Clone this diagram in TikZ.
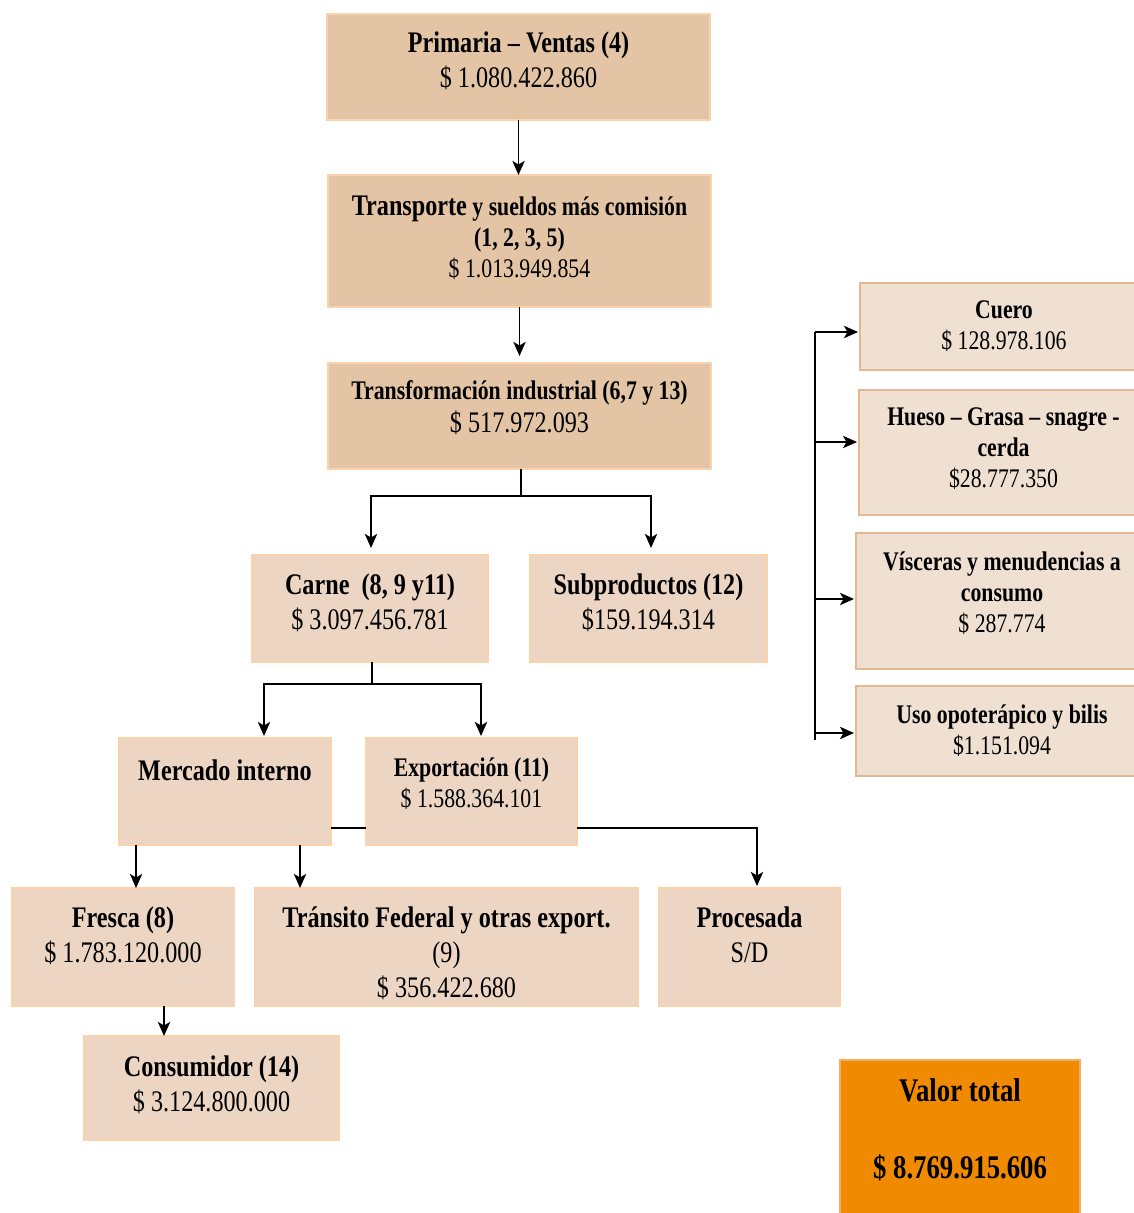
\documentclass[tikz,border=0pt]{standalone}
\usepackage{fontspec}
\setmainfont{Liberation Serif}[FakeStretch=0.81]
\usetikzlibrary{positioning,calc,arrows.meta}

\definecolor{tanDark}{HTML}{E3C5A5}
\definecolor{tanMid}{HTML}{ECD6C3}
\definecolor{tanLight}{HTML}{EFE0D1}
\definecolor{edgeLight}{HTML}{FAD3AC}
\definecolor{edgeTan}{HTML}{E2B791}
\definecolor{edgeTotal}{HTML}{F3AE63}
\definecolor{totalOrange}{HTML}{F08A00}

\newcommand\fbig{\fontsize{17}{19.9}\selectfont}
\newcommand\fsmall{\fontsize{15.3}{17.6}\selectfont}
\newcommand\ftotal{\fontsize{18.8}{21.9}\selectfont}

\begin{document}
\begin{tikzpicture}[x=0.02cm,y=-0.02cm,>={Stealth[length=8pt,width=7pt,inset=2pt]},
    stagebox/.style={draw=edgeLight,line width=1.2pt,fill=tanMid,inner sep=0pt,outer sep=0pt},
    stagedark/.style={stagebox,fill=tanDark},
    sidebox/.style={stagebox,draw=edgeTan,fill=tanLight},
    totalbox/.style={stagebox,draw=edgeTotal,fill=totalOrange},
    txt/.style={align=center,inner sep=0pt,font=\fbig,execute at begin node=\strut},
    txtsmall/.style={txt,font=\fsmall},
    flow/.style={->,line width=1.1pt},
    link/.style={line width=1.1pt}]
    \useasboundingbox (0,0) rectangle (1133,1213);

    %/ Cadena principal
    \node[stagedark,minimum width=7.66cm,minimum height=2.12cm] (prim) at (518.5,67) {};
    \node[txt,below=0.34cm of prim.north] (primT) {\textbf{Primaria – Ventas (4)}\\\$ 1.080.422.860};

    \node[stagedark,minimum width=7.66cm,minimum height=2.64cm] (transp) at (519.5,241) {};
    \node[txtsmall,below=0.41cm of transp.north] (transpT) {\textbf{{\fbig Transporte} y sueldos más comisión}\\\textbf{(1, 2, 3, 5)}\\\$ 1.013.949.854};

    \node[stagedark,minimum width=7.66cm,minimum height=2.12cm] (transf) at (519.5,416) {};
    \node[txtsmall,below=0.35cm of transf.north] (transfT) {\textbf{Transformación industrial (6,7 y 13)}\\[1.2pt]{\fbig\$ 517.972.093}};

    %/ Carne y subproductos
    \node[stagebox,minimum width=4.72cm,minimum height=2.14cm] (carne) at (370,608.5) {};
    \node[txt,below=0.36cm of carne.north] (carneT) {\textbf{Carne\ \ (8, 9 y11)}\\\$ 3.097.456.781};

    \node[stagebox,minimum width=4.74cm,minimum height=2.14cm] (subp) at (648.5,608.5) {};
    \node[txt,below=0.36cm of subp.north] (subpT) {\textbf{Subproductos (12)}\\\$159.194.314};

    \node[stagebox,minimum width=4.24cm,minimum height=2.14cm] (merc) at (225,791.5) {};
    \node[txt,below=0.36cm of merc.north] (mercT) {\textbf{Mercado interno}};

    \node[stagebox,minimum width=4.22cm,minimum height=2.14cm] (expo) at (471.5,791.5) {};
    \node[txtsmall,below=0.39cm of expo.north] (expoT) {\textbf{Exportación (11)}\\\$ 1.588.364.101};

    %/ Destinos
    \node[stagebox,minimum width=4.44cm,minimum height=2.36cm] (fresca) at (123,947) {};
    \node[txt,below=0.36cm of fresca.north] (frescaT) {\textbf{Fresca (8)}\\\$ 1.783.120.000};

    \node[stagebox,minimum width=7.66cm,minimum height=2.36cm] (transito) at (446.5,947) {};
    \node[txt,below=0.36cm of transito.north] (transitoT) {\textbf{Tránsito Federal y otras export.}\\(9)\\\$ 356.422.680};

    \node[stagebox,minimum width=3.62cm,minimum height=2.36cm] (proc) at (749.5,947) {};
    \node[txt,below=0.36cm of proc.north] (procT) {\textbf{Procesada}\\S/D};

    \node[stagebox,minimum width=5.10cm,minimum height=2.08cm] (cons) at (211.5,1088) {};
    \node[txt,below=0.38cm of cons.north] (consT) {\textbf{Consumidor (14)}\\\$ 3.124.800.000};

    %/ Subproductos (detalle)
    \node[sidebox,minimum width=5.76cm,minimum height=1.74cm] (cuero) at (1004,326.5) {};
    \node[txtsmall,below=0.35cm of cuero.north] (cueroT) {\textbf{Cuero}\\\$ 128.978.106};

    \node[sidebox,minimum width=5.78cm,minimum height=2.50cm] (hueso) at (1003.5,452.5) {};
    \node[txtsmall,below=0.35cm of hueso.north] (huesoT) {\textbf{Hueso – Grasa – snagre -}\\\textbf{cerda}\\\$28.777.350};

    \node[sidebox,minimum width=5.84cm,minimum height=2.72cm] (visc) at (1002,601) {};
    \node[txtsmall,below=0.37cm of visc.north] (viscT) {\textbf{Vísceras y menudencias a}\\\textbf{consumo}\\\$ 287.774};

    \node[sidebox,minimum width=5.84cm,minimum height=1.80cm] (uso) at (1002,731) {};
    \node[txtsmall,below=0.37cm of uso.north] (usoT) {\textbf{Uso opoterápico y bilis}\\\$1.151.094};

    %/ Total
    \node[totalbox,minimum width=4.80cm,minimum height=3.20cm] (total) at (960,1140) {};
    \node[txt,font=\ftotal\bfseries,below=0.37cm of total.north] (totalT) {Valor total\\[21.9pt]\$ 8.769.915.606};

    %/ Conectores
    \draw[flow] (prim.south) -- (prim.south |- transp.north);
    \draw[flow] (transp.south) -- ($(transp.south |- transf.north)+(0,-7)$);

    \coordinate (split1) at ($(transf.south)+(1.5,27)$);
    \draw[link] (transf.south -| split1) -- (split1);
    \draw[flow] (split1) -| ($(carne.north)+(1,-7)$);
    \draw[flow] (split1) -| ($(subp.north)+(2.5,-7)$);

    \coordinate (split2) at ($(carne.south)+(2,22)$);
    \draw[link] (carne.south -| split2) -- (split2);
    \draw[flow] (split2) -| ($(merc.north)+(39,-2)$);
    \draw[flow] (split2) -| ($(expo.north)+(9.5,-2)$);

    \draw[link] ($(merc.south east)+(0,-17)$) -- ($(expo.south west)+(0,-17)$);
    \draw[flow] ($(expo.south east)+(0,-17)$) -| ($(proc.north)+(7.5,-2)$);

    \coordinate (m1) at ($(merc.south west)+(17,0)$);
    \coordinate (m2) at ($(merc.south west)+(181,0)$);
    \draw[flow] (m1) -- (m1 |- fresca.north);
    \draw[flow] (m2) -- (m2 |- transito.north);

    \coordinate (f1) at ($(fresca.south west)+(152,0)$);
    \draw[flow] (f1) -- (f1 |- cons.north);

    \coordinate (busTop) at (815,332);
    \coordinate (busBot) at (815,740);
    \draw[link] (busTop) -- (busBot);
    \foreach \n/\dy in {cuero/5.5,hueso/-10.5,visc/-2,uso/2}
        \draw[flow] ($(busTop |- \n.west)+(0,\dy)$) -- ($(\n.west)+(-2,\dy)$);
\end{tikzpicture}
\end{document}
